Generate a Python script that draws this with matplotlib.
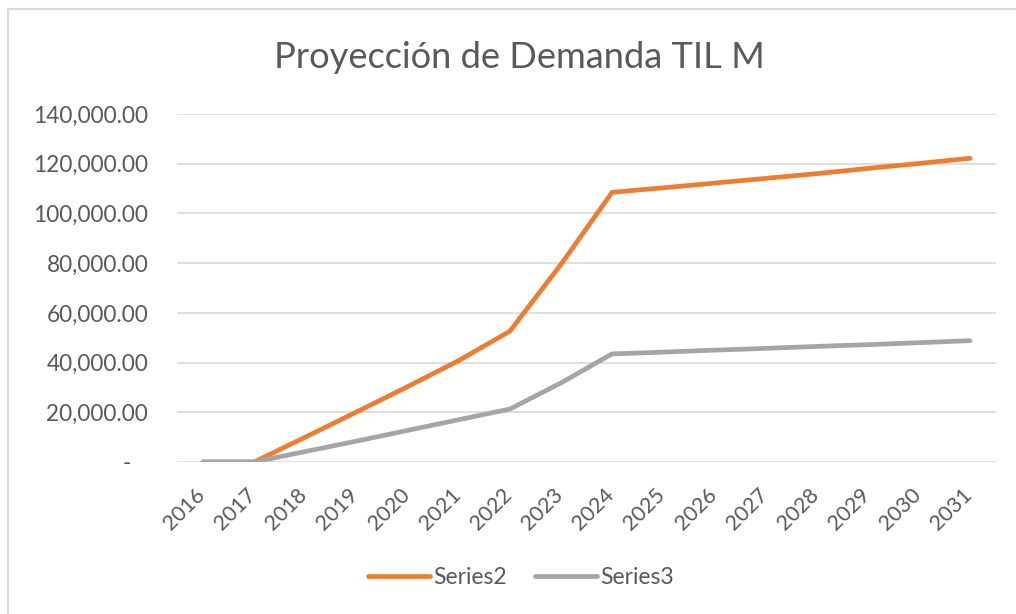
import matplotlib
matplotlib.use("Agg")
import matplotlib.pyplot as plt
from matplotlib.ticker import FuncFormatter
from matplotlib.lines import Line2D
from matplotlib.transforms import ScaledTranslation

years = [str(y) for y in range(2016, 2032)]
series2 = [0, 0, 10000, 20100, 30300, 40800, 52600, 79500, 108500,
           110300, 112200, 114100, 116000, 118100, 120100, 122200]
series3 = [0, 0, 4200, 8400, 12700, 17000, 21300, 31800, 43500,
           44200, 45000, 45700, 46500, 47200, 48000, 48800]
series_names = ["Series2", "Series3"]
title = "Proyección de Demanda TIL M"

plt.rcParams['font.family'] = ['Lato', 'DejaVu Sans']
txt = '#595959'
fig = plt.figure(figsize=(10.16, 6.14), dpi=100)
ax = fig.add_axes([177.4/1016, 1-462/614, 818.2/1016, 348/614])

x = list(range(len(years)))
ax.plot(x, series2, color='#ED7D31', lw=3.4, solid_capstyle='round', solid_joinstyle='round', label=series_names[0], zorder=3)
ax.plot(x, series3, color='#A5A5A5', lw=3.4, solid_capstyle='round', solid_joinstyle='round', label=series_names[1], zorder=4)

ax.set_xlim(-0.5, len(years)-0.5)
ax.set_ylim(0, 140000)
ax.set_yticks(range(0, 140001, 20000))
ax.yaxis.set_major_formatter(FuncFormatter(lambda v, p: '-   ' if v == 0 else f'{v:,.2f}'))
ax.set_xticks(x)
ax.set_xticklabels(years, rotation=45, ha='right', rotation_mode='default')
ax.tick_params(axis='y', length=0, pad=21, labelsize=16.3, labelcolor=txt)
ax.tick_params(axis='x', length=0, pad=16, labelsize=15.5, labelcolor=txt)
off = ScaledTranslation(6/100, 0, fig.dpi_scale_trans)
for lab in ax.get_xticklabels():
    lab.set_transform(lab.get_transform() + off)
ax.grid(axis='y', color='#D9D9D9', lw=1.2)
ax.set_axisbelow(True)
for s in ax.spines.values():
    s.set_visible(False)

fig.text(519/1016, 1-58/614, title, ha='center', va='center', fontsize=26.1, color=txt)

fig.legend(loc='center', bbox_to_anchor=(521/1016, 1-578/614), ncol=2, frameon=False,
           fontsize=16.5, labelcolor=txt, handlelength=2.7, handletextpad=0.15, columnspacing=1.2)

fig.add_artist(Line2D([7.5/1016, 7.5/1016], [0, 1-9/614], transform=fig.transFigure, color='#D9D9D9', lw=1.5))
fig.add_artist(Line2D([7.5/1016, 1], [1-9/614, 1-9/614], transform=fig.transFigure, color='#D9D9D9', lw=1.5))

fig.savefig('out.png', dpi=100)
